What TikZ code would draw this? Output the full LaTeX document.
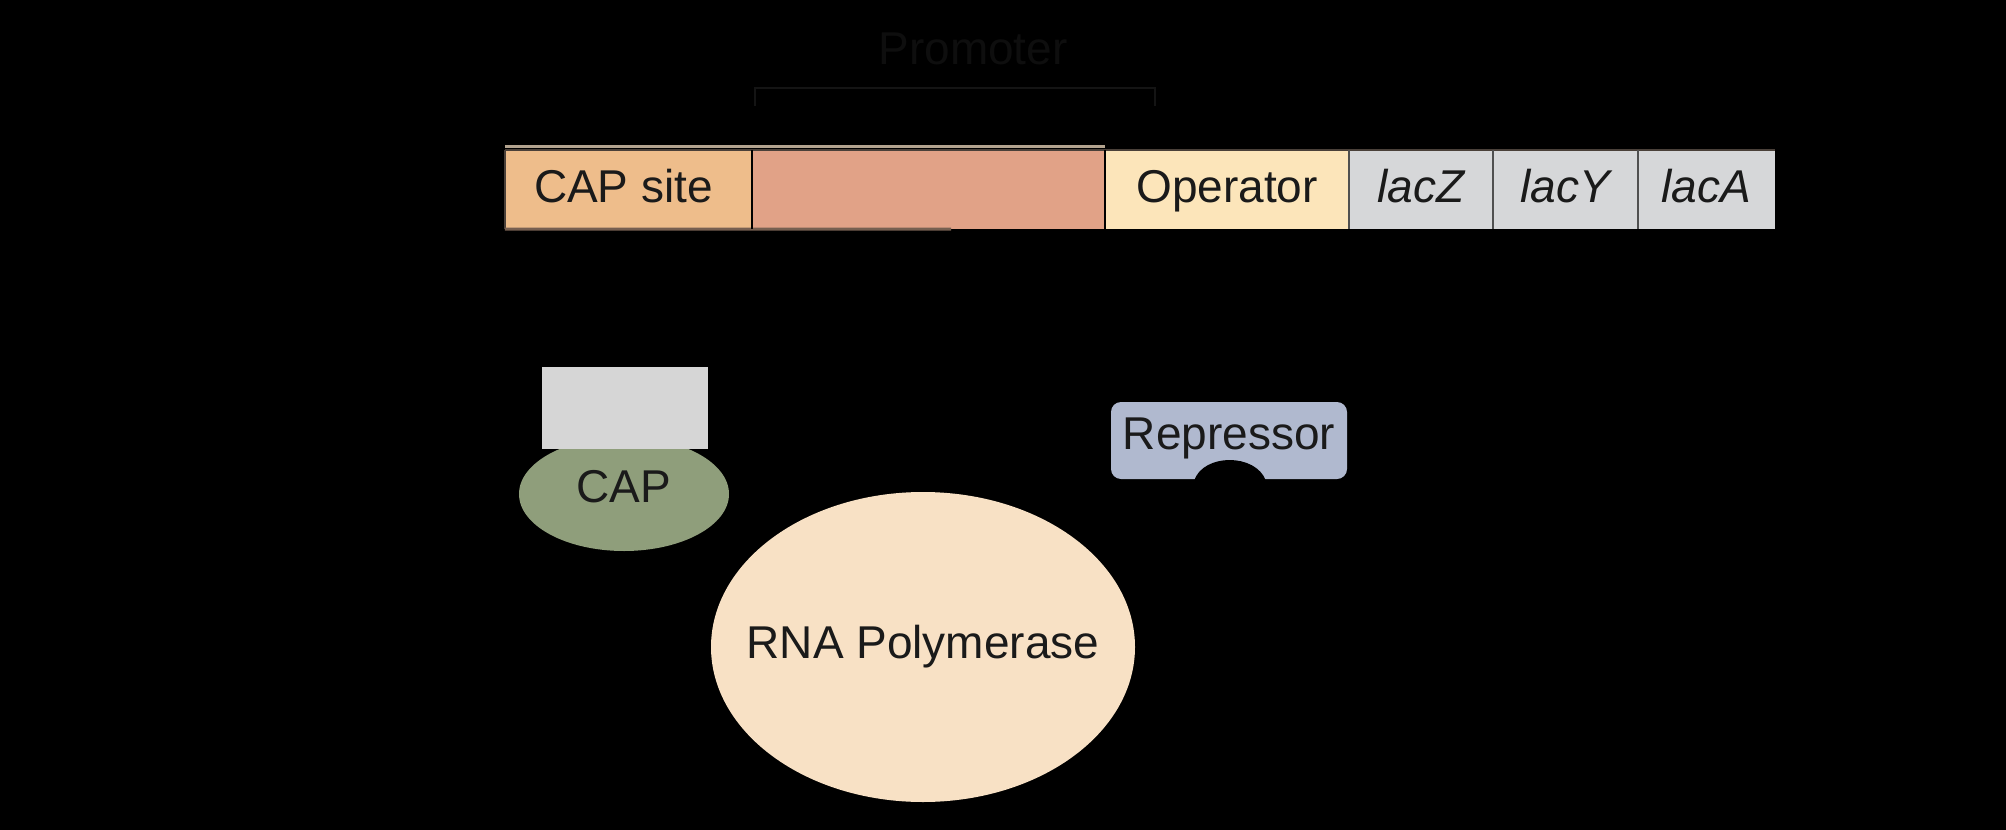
\documentclass[tikz,border=0pt]{standalone}
\usepackage{fontspec}
\setmainfont{Liberation Sans}
\usetikzlibrary{shapes.geometric,calc}
\definecolor{capsitec}{HTML}{EEBD8B}
\definecolor{promc}{HTML}{E1A287}
\definecolor{operc}{HTML}{FCE5BA}
\definecolor{genec}{HTML}{D6D7D9}
\definecolor{capgray}{HTML}{D6D6D6}
\definecolor{capgreen}{HTML}{8F9E7B}
\definecolor{repc}{HTML}{B0B9CF}
\definecolor{rnapc}{HTML}{F8E1C5}
\definecolor{txt}{HTML}{1A1A1A}
\definecolor{promtxt}{HTML}{0E0E0E}
\definecolor{brack}{HTML}{141414}
\definecolor{lightedge}{HTML}{B3A38F}
\definecolor{topedge}{HTML}{4A4039}
\definecolor{bottomedge}{HTML}{765F50}
\definecolor{divgray}{HTML}{505050}
\begin{document}
\begin{tikzpicture}[x=1pt,y=-1pt,
  bigfont/.style={font=\fontsize{46pt}{55pt}\selectfont, text=txt},
  genebox/.style={rectangle, draw=none, minimum height=79pt, inner sep=0pt,
    bigfont, text height=33pt, text depth=8pt},
  divider/.style={line width=2.5pt, divgray},
]
\fill[black] (0,0) rectangle (2006,830);

% gene bar
\node[genebox, fill=capsitec, minimum width=247pt] (capsite) at (628.5,189.5) {\makebox[0pt]{\hspace{-10pt}CAP site}};
\node[genebox, fill=promc, minimum width=353pt] (prom) at (928.5,189.5) {};
\node[genebox, fill=operc, minimum width=244pt] (oper) at (1227,189.5) {Operator};
\node[genebox, fill=genec, minimum width=144pt] (lacz) at (1421,189.5) {\itshape lacZ};
\node[genebox, fill=genec, minimum width=145pt] (lacy) at (1565.5,189.5) {\itshape lacY};
\node[genebox, fill=genec, minimum width=137pt] (laca) at (1706.5,189.5) {\itshape lacA};

\draw[line width=3pt, lightedge] ([yshift=3pt]capsite.north west) -- ([yshift=3pt]prom.north east);
\draw[line width=2.5pt, topedge] (capsite.north west) -- (laca.north east);
\draw[line width=2.5pt, topedge] (capsite.north west) -- (capsite.south west);
\draw[line width=3pt, bottomedge] (capsite.south west) -- ($(prom.south west)!0.564!(prom.south east)$);
\draw[line width=2.5pt, black] (capsite.north east) -- (capsite.south east);
\draw[line width=2.5pt, black] (prom.north east) -- (prom.south east);
\draw[divider] (oper.north east) -- (oper.south east);
\draw[divider] (lacz.north east) -- (lacz.south east);
\draw[divider] (lacy.north east) -- (lacy.south east);

% promoter bracket and label
\node[bigfont, text=promtxt, text height=33pt, text depth=0pt, inner sep=0pt] (promlabel) at (973,48) {Promoter};
\coordinate (bl) at (755,106);
\coordinate (br) at (1155,106);
\draw[brack, line width=2pt] (bl) -- ++(0,-18) -| (br);

% CAP
\node[ellipse, fill=capgreen, minimum width=210pt, minimum height=114pt, inner sep=0pt,
  bigfont, text height=33pt, text depth=17pt] (cap) at (624,494) {\makebox[0pt]{CAP}};
\node[rectangle, fill=capgray, minimum width=166pt, minimum height=82pt, inner sep=0pt] (capbind) at (625,408) {};

% Repressor
\node[rectangle, rounded corners=10pt, fill=repc, minimum width=236pt, minimum height=77pt,
  inner sep=0pt, bigfont, text height=33pt, text depth=16pt] (rep) at (1229,440.5) {Repressor};
\fill[black] (1194,481) .. controls (1203,453) and (1256,453) .. (1266,481) -- cycle;

% RNA Polymerase
\node[ellipse, fill=rnapc, minimum width=424pt, minimum height=310pt, inner sep=0pt,
  bigfont, text height=33pt, text depth=11pt] (rnap) at (923,647) {\makebox[0pt]{RNA Polymerase}};
\end{tikzpicture}
\end{document}
